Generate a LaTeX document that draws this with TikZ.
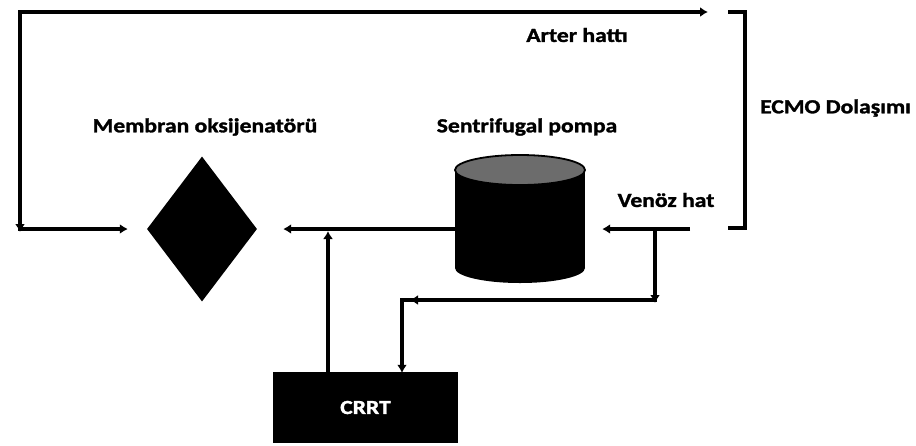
\documentclass[tikz,border=0pt]{standalone}
\usepackage{fontspec}
\setmainfont{Carlito}
\newfontfamily\lblfont[FakeStretch=1.18,FakeBold=1.5]{Carlito}
\usetikzlibrary{shapes.geometric,arrows.meta}
\begin{document}
\begin{tikzpicture}[x=1pt,y=-1pt,
  line/.style={line width=3.4pt},
  arr/.style={line, -{Latex[length=8pt,width=10pt]}},
  lbl/.style={font=\lblfont\bfseries\fontsize{20}{24}\selectfont, inner sep=0pt}]
\useasboundingbox (0,0) rectangle (916,445);
% shapes
\node (oxy) [diamond, fill=black, inner sep=0pt, minimum width=110pt, minimum height=145pt] at (202,229) {};
\fill[black] (455,170) rectangle (585,268);
\fill[black] (520,268) ellipse [x radius=65pt, y radius=15pt];
\filldraw[fill=gray!85!black, draw=black, line width=1.8pt] (520,170) ellipse [x radius=65pt, y radius=15pt];
\node (pump) [inner sep=0pt, minimum width=130pt, minimum height=128pt] at (520,219) {};
\node (crrt) [fill=black, text=white, minimum width=185pt, minimum height=71pt, inner sep=0pt,
  font=\lblfont\bfseries\fontsize{20}{24}\selectfont] at (365.5,407.5) {CRRT};
% labels
\node (lox) [lbl] at (205,127) {Membran oksijenatörü};
\node (lpump) [lbl] at (527,127) {Sentrifugal pompa};
\node (lart) [lbl] at (577,35) {Arter hattı};
\node (lven) [lbl] at (666,200) {Venöz hat};
\node (lecmo) [lbl, anchor=west] at (760,108) {ECMO Dolaşımı};
% coordinates
\coordinate (tl) at (20,12);
\coordinate (tr) at (708,12);
\coordinate (bl) at (20,229);
\coordinate (vin) at (690,229);
\coordinate (vj) at (655,229);
\coordinate (vc) at (655,300);
\coordinate (cc) at (402,300);
\coordinate (cj) at (328,229);
% ECMO arter loop
\draw[arr] ([xshift=-1.7pt]tl) -- (tr);
\draw[arr] (tl) -- ([yshift=-3pt]bl);
\draw[arr, shorten >=19pt] ([xshift=-1.7pt]bl) -- (oxy.west);
% pump to oxygenator
\draw[arr, shorten >=26pt] (pump.west |- oxy.center) -- (oxy.east);
% venous line
\draw[arr, shorten >=17pt] (vin) -- (pump.east |- vin);
% CRRT return
\draw[arr] (crrt.north -| cj) -- ([yshift=-2pt]cj);
% CRRT access
\draw[arr] (vj) -- ([yshift=-3pt]vc);
\draw[line] ([xshift=1.7pt]vc) -- ([xshift=-1.7pt]cc);
\draw[arr] (vc) -- ([xshift=8pt]cc);
\draw[arr] (cc) -- ([yshift=-1pt]cc |- crrt.north);
% bracket
\draw[line] (728,12) -- (745,12) -- (745,228) -- (728,228);
\end{tikzpicture}
\end{document}
